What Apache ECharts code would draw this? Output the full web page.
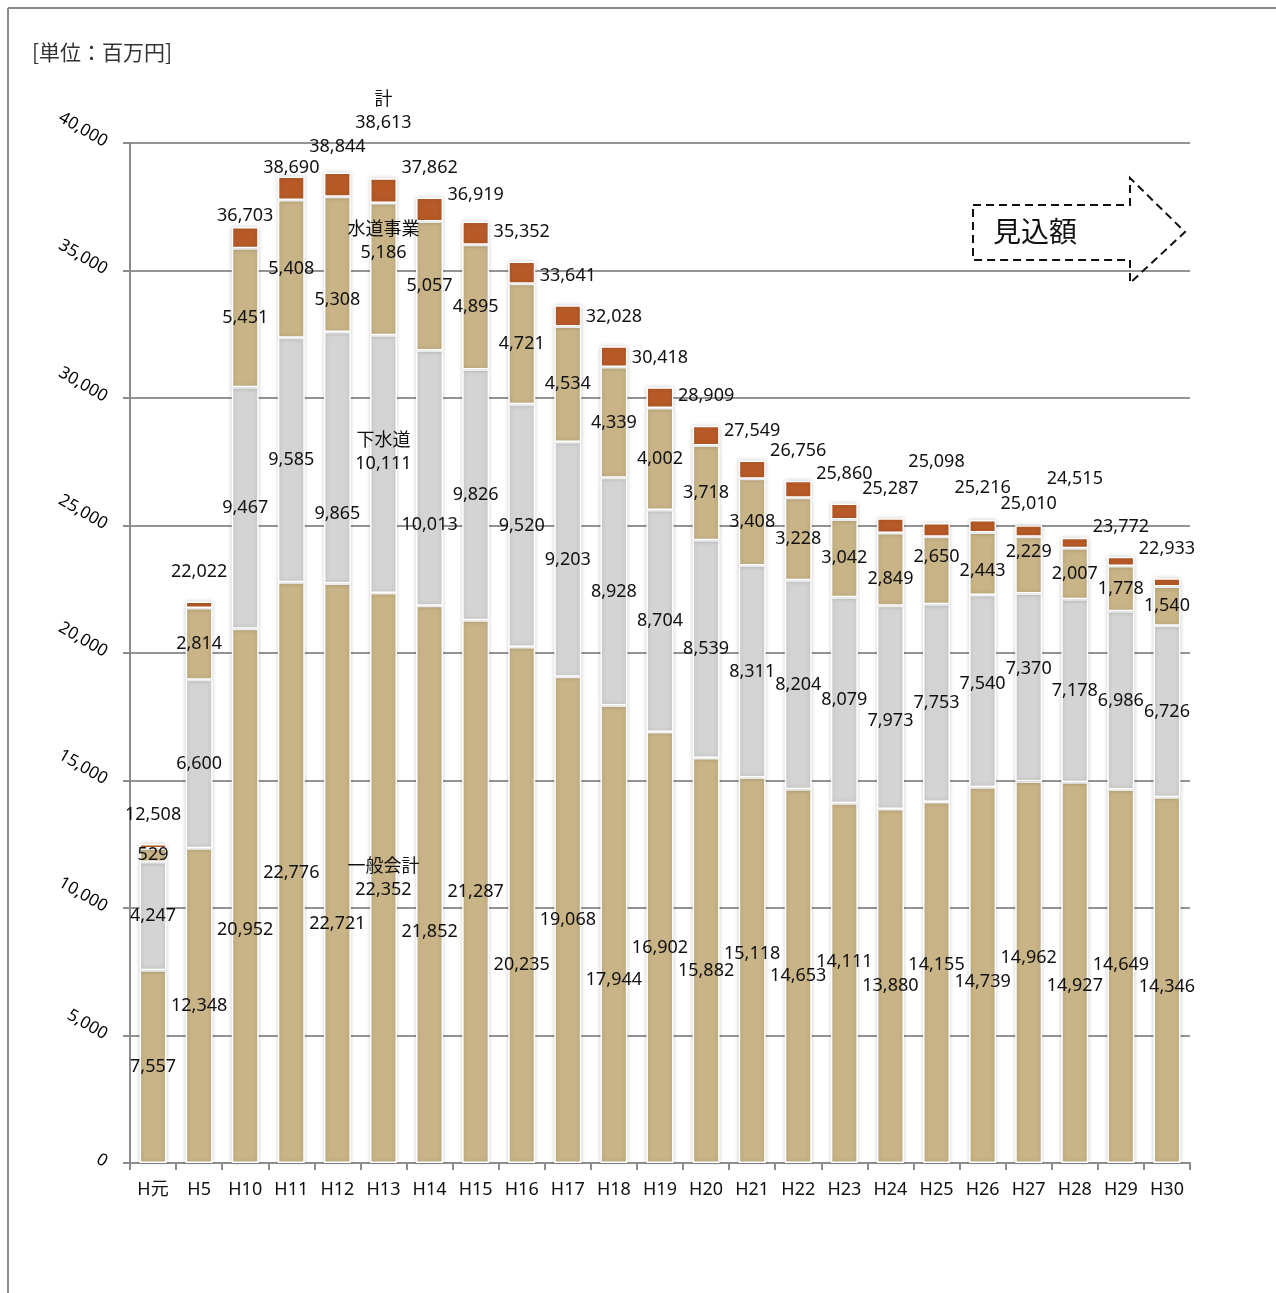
<!DOCTYPE html>
<html>
<head>
<meta charset="utf-8">
<script src="https://cdn.jsdelivr.net/npm/echarts@6/dist/echarts.min.js"></script>
<style>
  html, body { margin: 0; padding: 0; background: #fff; }
  #chart { width: 1276px; height: 1293px; }
</style>
</head>
<body>
<div id="chart"></div>
<script>
// 年度
var categories = ['H元', 'H5', 'H10', 'H11', 'H12', 'H13', 'H14', 'H15', 'H16', 'H17', 'H18', 'H19',
  'H20', 'H21', 'H22', 'H23', 'H24', 'H25', 'H26', 'H27', 'H28', 'H29', 'H30'];

// 一般会計
var ippanKaikei = [7557, 12348, 20952, 22776, 22721, 22352, 21852, 21287, 20235, 19068, 17944, 16902,
  15882, 15118, 14653, 14111, 13880, 14155, 14739, 14962, 14927, 14649, 14346];
// 下水道
var gesuido = [4247, 6600, 9467, 9585, 9865, 10111, 10013, 9826, 9520, 9203, 8928, 8704,
  8539, 8311, 8204, 8079, 7973, 7753, 7540, 7370, 7178, 6986, 6726];
// 水道事業
var suidoJigyo = [529, 2814, 5451, 5408, 5308, 5186, 5057, 4895, 4721, 4534, 4339, 4002,
  3718, 3408, 3228, 3042, 2849, 2650, 2443, 2229, 2007, 1778, 1540];
// その他（ラベルなしの上段）
var sonota = [175, 260, 833, 921, 950, 964, 940, 911, 876, 836, 817, 810,
  770, 712, 671, 628, 585, 540, 494, 449, 403, 359, 321];
// 計
var totals = [12508, 22022, 36703, 38690, 38844, 38613, 37862, 36919, 35352, 33641, 32028, 30418,
  28909, 27549, 26756, 25860, 25287, 25098, 25216, 25010, 24515, 23772, 22933];

var yTicks = [0, 5000, 10000, 15000, 20000, 25000, 30000, 35000, 40000];

// ラベル位置の微調整 (index: dy)
var labelShift = {
  ippan: {2: 34, 4: 51, 6: 47, 8: 60, 10: 46, 12: 10, 13: -16, 15: -21, 17: -18, 18: 7, 19: -14, 20: 13, 21: -11, 22: 7},
  gesui: {4: 56, 5: -12, 6: 47, 16: 13, 18: -7, 19: -19},
  suido: {4: 35, 5: -28, 16: 9, 17: -14, 18: 7, 19: -13},
  total: {2: 18, 3: 21, 4: 4, 5: -26, 7: 3, 17: -32, 18: -3, 19: 8, 20: -29}
};
var seriesName = {ippan: '一般会計', gesui: '下水道', suido: '水道事業'};

var FONT = "'Noto Sans', 'Noto Sans CJK JP', sans-serif";
var fmt = function (v) { return v.toLocaleString('en-US'); };

function buildData(values, key) {
  return values.map(function (v, i) {
    var item = {value: v};
    var dy = labelShift[key][i];
    if (dy !== undefined) {
      item.label = {offset: [0, dy]};
    }
    if (i === 5 && seriesName[key]) {
      item.label = item.label || {};
      item.label.formatter = seriesName[key] + '\n' + fmt(v);
    }
    if (i === 5 && key === 'total') {
      item.label.formatter = '計\n' + fmt(v);
    }
    return item;
  });
}

var barStyle = function (color) {
  return {
    color: color,
    borderColor: '#fff',
    borderWidth: 1.5,
    shadowBlur: 4,
    shadowColor: 'rgba(0,0,0,0.18)'
  };
};
var insideLabel = {
  show: true,
  position: 'inside',
  color: '#111',
  textBorderWidth: 0,
  fontSize: 18,
  lineHeight: 23,
  fontFamily: FONT,
  formatter: function (p) { return fmt(p.value); }
};

var chart = echarts.init(document.getElementById('chart'), null, {renderer: 'canvas'});

var option = {
  backgroundColor: '#fff',
  animation: false,
  grid: {left: 130, right: 86, top: 143, bottom: 130},
  xAxis: {
    type: 'category',
    data: categories,
    axisLine: {lineStyle: {color: '#8c8c8c', width: 2}},
    axisTick: {show: true, length: 7, lineStyle: {color: '#8c8c8c', width: 2}},
    axisLabel: {color: '#111', fontSize: 18, fontFamily: FONT, margin: 18, interval: 0}
  },
  yAxis: {
    type: 'value',
    min: yTicks[0],
    max: yTicks[yTicks.length - 1],
    interval: 5000,
    axisLine: {show: true, lineStyle: {color: '#8c8c8c', width: 2}},
    axisTick: {show: true, length: 7, lineStyle: {color: '#8c8c8c', width: 2}},
    splitLine: {lineStyle: {color: '#949494', width: 2}},
    axisLabel: {
      color: '#000', fontSize: 17, fontFamily: FONT, rotate: -30, margin: 24,
      formatter: function (v) { return fmt(v); }
    }
  },
  series: [
    {
      name: '一般会計', type: 'bar', stack: 'total', barWidth: 27,
      itemStyle: barStyle('#c8b486'),
      label: insideLabel,
      data: buildData(ippanKaikei, 'ippan')
    },
    {
      name: '下水道', type: 'bar', stack: 'total', barWidth: 27,
      itemStyle: barStyle('#d4d4d4'),
      label: insideLabel,
      data: buildData(gesuido, 'gesui')
    },
    {
      name: '水道事業', type: 'bar', stack: 'total', barWidth: 27,
      itemStyle: barStyle('#c8b486'),
      label: insideLabel,
      data: buildData(suidoJigyo, 'suido')
    },
    {
      name: 'その他', type: 'bar', stack: 'total', barWidth: 27,
      itemStyle: barStyle('#b75a27'),
      data: sonota
    },
    {
      name: '計', type: 'scatter', symbolSize: 0,
      itemStyle: {color: 'rgba(0,0,0,0)', opacity: 1},
      z: 5,
      label: {
        show: true, position: 'top', distance: 18,
        color: '#111', textBorderWidth: 0, fontSize: 18, lineHeight: 23, fontFamily: FONT,
        formatter: function (p) { return fmt(p.value); }
      },
      data: buildData(totals, 'total')
    }
  ],
  graphic: [
    {type: 'line', shape: {x1: 8, y1: 8, x2: 1276, y2: 8}, style: {stroke: '#8a8a8a', lineWidth: 2}},
    {type: 'line', shape: {x1: 8, y1: 8, x2: 8, y2: 1293}, style: {stroke: '#8a8a8a', lineWidth: 2}},
    {
      type: 'text', left: 32, top: 42,
      style: {text: '[単位：百万円]', fill: '#333', font: "21px 'Noto Sans CJK JP', sans-serif"}
    },
    {
      type: 'polygon',
      shape: {points: [[973, 205], [1130, 205], [1130, 178], [1185, 232], [1130, 283], [1130, 260], [973, 260]]},
      style: {fill: 'none', stroke: '#111', lineWidth: 2, lineDash: [8, 5]},
      z: 10
    },
    {
      type: 'text', left: 993, top: 217,
      style: {text: '見込額', fill: '#111', font: "28px 'Noto Sans CJK JP', sans-serif"},
      z: 10
    }
  ]
};

chart.setOption(option);
</script>
</body>
</html>
